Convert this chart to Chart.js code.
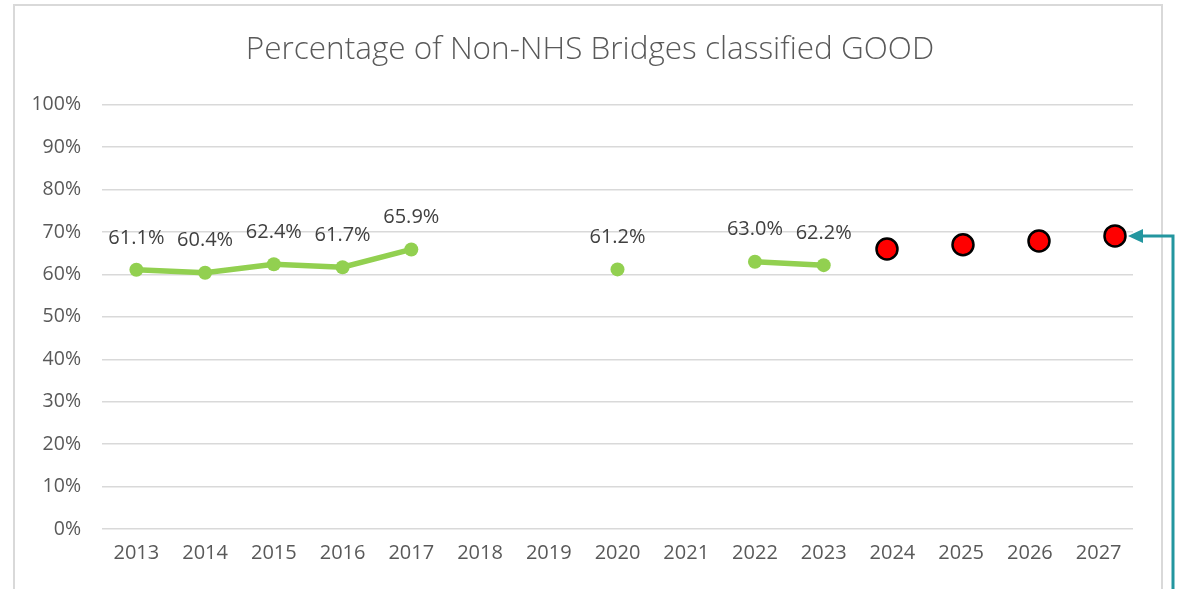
<!DOCTYPE html>
<html>
<head>
<meta charset="utf-8">
<script src="https://cdn.jsdelivr.net/npm/chart.js@4"></script>
<style>
  body { margin: 0; background: #fff; }
  canvas { display: block; }
</style>
</head>
<body>
<canvas id="chart" width="1180" height="589"></canvas>
<script>
const years = ["2013", "2014", "2015", "2016", "2017", "2018", "2019", "2020",
  "2021", "2022", "2023", "2024", "2025", "2026", "2027"];
// actual % GOOD (gaps = no data)
const actual = [61.1, 60.4, 62.4, 61.7, 65.9, null, null, 61.2, null, 63.0, 62.2,
  null, null, null, null];
// target years + values (red dots)
const targetYears = [2024, 2025, 2026, 2027];
const targetVals = [66.0, 67.0, 67.9, 69.1];
const yTicks = [0, 10, 20, 30, 40, 50, 60, 70, 80, 90, 100];

const FONT = "'Open Sans', 'Noto Sans', sans-serif";
const GREEN = "#92D050";
const TEAL = "#23969F";

// frame round the chart
const framePlugin = {
  id: "frame",
  beforeDraw(chart) {
    const ctx = chart.ctx;
    ctx.save();
    ctx.strokeStyle = "#d9d9d9";
    ctx.lineWidth = 2;
    ctx.strokeRect(14, 5, chart.width - 32, chart.height + 20);
    ctx.restore();
  },
};

// value labels above the green points
const labelPlugin = {
  id: "valueLabels",
  afterDatasetsDraw(chart) {
    const ctx = chart.ctx;
    const meta = chart.getDatasetMeta(0);
    ctx.save();
    ctx.font = "20px " + FONT;
    ctx.fillStyle = "#404040";
    ctx.textAlign = "center";
    ctx.textBaseline = "middle";
    meta.data.forEach((pt, i) => {
      if (actual[i] == null) return;
      ctx.fillText(actual[i].toFixed(1) + "%", pt.x, pt.y - 32);
    });
    ctx.restore();
  },
};

// teal arrow pointing at the last target
const arrowPlugin = {
  id: "arrow",
  afterDraw(chart) {
    const ctx = chart.ctx;
    const meta = chart.getDatasetMeta(1);
    const last = meta.data[meta.data.length - 1];
    const tipX = last.x + 13;
    const y = last.y;
    const lineX = chart.width - 7;
    ctx.save();
    ctx.strokeStyle = TEAL;
    ctx.fillStyle = TEAL;
    ctx.lineWidth = 3;
    ctx.beginPath();
    ctx.moveTo(lineX, chart.height + 5);
    ctx.lineTo(lineX, y);
    ctx.lineTo(tipX + 12, y);
    ctx.stroke();
    ctx.beginPath();
    ctx.moveTo(tipX, y);
    ctx.lineTo(tipX + 15, y - 7);
    ctx.lineTo(tipX + 15, y + 7);
    ctx.closePath();
    ctx.fill();
    ctx.restore();
  },
};

new Chart(document.getElementById("chart"), {
  type: "line",
  data: {
    labels: years,
    datasets: [
      {
        label: "Actual",
        data: actual,
        borderColor: GREEN,
        backgroundColor: GREEN,
        borderWidth: 5.5,
        pointRadius: 7,
        pointBorderWidth: 0,
        spanGaps: false,
        xAxisID: "x",
      },
      {
        label: "Target",
        data: targetYears.map((yr, i) => ({ x: yr, y: targetVals[i] })),
        showLine: false,
        pointRadius: 10.5,
        pointBorderWidth: 2.5,
        pointBackgroundColor: "#FF0000",
        pointBorderColor: "#000000",
        xAxisID: "x2",
      },
    ],
  },
  options: {
    responsive: false,
    animation: false,
    layout: { padding: 0 },
    plugins: {
      legend: { display: false },
      tooltip: { enabled: false },
      title: {
        display: true,
        text: "Percentage of Non-NHS Bridges classified GOOD",
        color: "#595959",
        font: { family: FONT, size: 31.5, weight: "300" },
        padding: { top: 31, bottom: 36 },
      },
    },
    scales: {
      x: {
        type: "category",
        offset: true,
        grid: { display: false, drawTicks: false },
        border: { display: false },
        ticks: {
          color: "#595959",
          font: { family: FONT, size: 20 },
          padding: 12,
          maxRotation: 0,
          autoSkip: false,
        },
        afterFit(scale) { scale.height = 60; },
      },
      x2: {
        type: "linear",
        display: false,
        min: 2013.671,
        max: 2027.237,
      },
      y: {
        min: 0,
        max: 100,
        afterBuildTicks(scale) {
          scale.ticks = yTicks.map((v) => ({ value: v }));
        },
        grid: { color: "#d9d9d9", lineWidth: 1.5, drawTicks: false },
        border: { display: false },
        ticks: {
          color: "#595959",
          font: { family: FONT, size: 19.5 },
          padding: 21,
          callback: (v) => v + "%",
        },
        afterFit(scale) { scale.width = 102; },
      },
      // empty right-hand axis, only reserves the margin on the right
      yRight: {
        position: "right",
        min: 0,
        max: 100,
        grid: { display: false, drawTicks: false },
        border: { display: false },
        ticks: { display: false },
        afterFit(scale) { scale.width = 47; },
      },
    },
  },
  plugins: [framePlugin, labelPlugin, arrowPlugin],
});
</script>
</body>
</html>
